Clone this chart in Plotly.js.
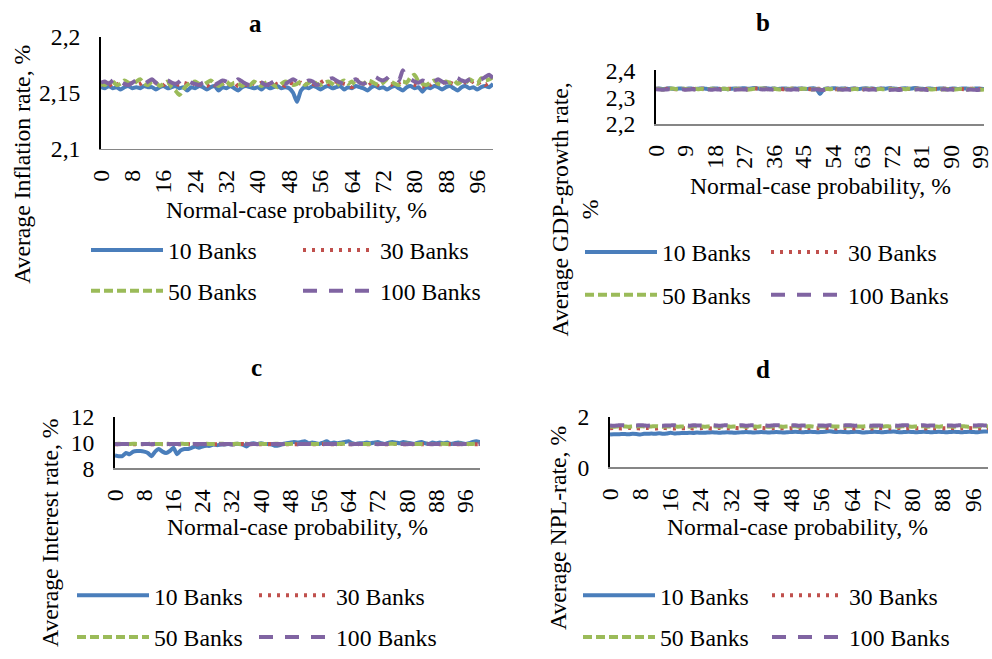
<!DOCTYPE html>
<html><head><meta charset="utf-8">
<script src="https://cdn.plot.ly/plotly-3.0.1.min.js"></script>
<style>html,body{margin:0;padding:0;background:#fff}#chart{width:992px;height:659px}</style>
</head><body><div id="chart"></div>
<script>
// ---------------- DATA ----------------
const X_VALUES = [0,1,2,3,4,5,6,7,8,9,10,11,12,13,14,15,16,17,18,19,20,21,22,23,24,25,26,27,28,29,30,31,32,33,34,35,36,37,38,39,40,41,42,43,44,45,46,47,48,49,50,51,52,53,54,55,56,57,58,59,60,61,62,63,64,65,66,67,68,69,70,71,72,73,74,75,76,77,78,79,80,81,82,83,84,85,86,87,88,89,90,91,92,93,94,95,96,97,98,99,100];
const SERIES_NAMES = ['10 Banks','30 Banks','50 Banks','100 Banks'];

const X_TICKS_8 = [0,8,16,24,32,40,48,56,64,72,80,88,96];
const X_TICKS_9 = [0,9,18,27,36,45,54,63,72,81,90,99];

const Y_TICKS_A = [2.1,2.15,2.2];  const Y_LABELS_A = ['2,1','2,15','2,2'];
const Y_TICKS_B = [2.2,2.3,2.4];   const Y_LABELS_B = ['2,2','2,3','2,4'];
const Y_TICKS_C = [8,10,12];       const Y_LABELS_C = ['8','10','12'];
const Y_TICKS_D = [0,2];           const Y_LABELS_D = ['0','2'];

// a: Average inflation rate
const INF_10 = [2.155,2.154,2.156,2.154,2.155,2.153,2.155,2.156,2.154,2.155,
2.154,2.156,2.155,2.155,2.153,2.155,2.156,2.154,2.155,2.156,
2.154,2.155,2.152,2.155,2.154,2.156,2.155,2.153,2.155,2.156,
2.152,2.155,2.154,2.156,2.154,2.152,2.155,2.156,2.155,2.154,
2.155,2.153,2.156,2.154,2.155,2.156,2.154,2.155,2.154,2.150,
2.142,2.152,2.155,2.154,2.156,2.155,2.153,2.155,2.156,2.154,
2.155,2.156,2.153,2.155,2.154,2.156,2.155,2.154,2.152,2.155,
2.156,2.154,2.155,2.153,2.155,2.156,2.154,2.152,2.155,2.156,
2.154,2.155,2.151,2.155,2.154,2.156,2.155,2.153,2.155,2.156,
2.154,2.152,2.155,2.156,2.154,2.155,2.153,2.155,2.156,2.155,2.158];
const INF_30 = [2.157,2.158,2.156,2.159,2.157,2.160,2.158,2.156,2.159,2.157,
2.158,2.160,2.157,2.156,2.159,2.158,2.157,2.160,2.156,2.158,
2.157,2.159,2.158,2.156,2.160,2.157,2.158,2.156,2.159,2.157,
2.155,2.158,2.160,2.157,2.159,2.156,2.158,2.157,2.159,2.158,
2.157,2.159,2.156,2.158,2.160,2.157,2.158,2.156,2.159,2.158,
2.157,2.159,2.156,2.160,2.158,2.157,2.159,2.161,2.158,2.156,
2.159,2.161,2.158,2.157,2.155,2.160,2.162,2.158,2.161,2.157,
2.155,2.159,2.161,2.158,2.157,2.160,2.158,2.156,2.159,2.158,
2.157,2.156,2.155,2.159,2.157,2.160,2.158,2.161,2.157,2.159,
2.158,2.160,2.156,2.159,2.157,2.161,2.158,2.160,2.157,2.159,2.160];
const INF_50 = [2.158,2.157,2.159,2.160,2.157,2.158,2.161,2.159,2.157,2.160,
2.162,2.158,2.157,2.160,2.159,2.156,2.158,2.160,2.155,2.152,
2.148,2.153,2.157,2.159,2.160,2.158,2.157,2.159,2.161,2.158,
2.156,2.158,2.160,2.157,2.159,2.158,2.156,2.159,2.157,2.160,
2.158,2.156,2.159,2.160,2.157,2.155,2.158,2.160,2.159,2.157,
2.158,2.160,2.157,2.159,2.161,2.158,2.157,2.159,2.160,2.158,
2.156,2.159,2.161,2.158,2.160,2.157,2.159,2.158,2.161,2.160,
2.158,2.157,2.159,2.162,2.160,2.158,2.157,2.160,2.159,2.164,
2.166,2.160,2.158,2.157,2.159,2.161,2.158,2.157,2.160,2.159,
2.161,2.158,2.160,2.159,2.162,2.160,2.158,2.163,2.161,2.162,2.164];
const INF_100 = [2.159,2.160,2.158,2.161,2.163,2.160,2.158,2.157,2.159,2.161,
2.160,2.158,2.160,2.162,2.159,2.157,2.160,2.161,2.159,2.158,
2.160,2.163,2.161,2.159,2.158,2.157,2.159,2.160,2.158,2.157,
2.159,2.161,2.160,2.158,2.159,2.162,2.160,2.158,2.157,2.159,
2.160,2.159,2.157,2.158,2.160,2.161,2.159,2.158,2.160,2.162,
2.160,2.158,2.159,2.161,2.160,2.157,2.158,2.160,2.162,2.163,
2.161,2.159,2.158,2.160,2.161,2.162,2.159,2.158,2.160,2.163,
2.164,2.162,2.161,2.163,2.166,2.164,2.161,2.170,2.163,2.162,
2.160,2.159,2.161,2.160,2.158,2.160,2.162,2.160,2.159,2.161,
2.164,2.163,2.161,2.160,2.162,2.163,2.161,2.162,2.164,2.166,2.163];

// b: Average GDP-growth rate
const GDP_10 = [2.332,2.333,2.331,2.332,2.334,2.332,2.331,2.333,2.332,2.331,
2.333,2.332,2.331,2.332,2.333,2.332,2.331,2.332,2.333,2.332,
2.331,2.332,2.330,2.332,2.333,2.332,2.333,2.334,2.332,2.333,
2.335,2.333,2.332,2.334,2.333,2.332,2.333,2.331,2.332,2.333,
2.332,2.331,2.333,2.332,2.333,2.332,2.331,2.333,2.334,2.330,
2.312,2.328,2.333,2.332,2.334,2.333,2.332,2.333,2.332,2.331,
2.333,2.332,2.331,2.333,2.334,2.332,2.333,2.331,2.332,2.333,
2.332,2.334,2.333,2.332,2.331,2.333,2.334,2.332,2.333,2.335,
2.333,2.332,2.331,2.333,2.332,2.331,2.332,2.333,2.332,2.331,
2.332,2.333,2.331,2.332,2.333,2.332,2.331,2.332,2.333,2.332,2.331];
const GDP_30 = [2.331,2.332,2.330,2.331,2.332,2.331,2.330,2.332,2.331,2.330,
2.332,2.331,2.330,2.331,2.332,2.331,2.330,2.331,2.332,2.331,
2.330,2.331,2.332,2.331,2.330,2.331,2.332,2.331,2.330,2.332,
2.333,2.332,2.331,2.332,2.331,2.330,2.331,2.332,2.331,2.330,
2.331,2.332,2.331,2.330,2.331,2.332,2.331,2.330,2.331,2.332,
2.331,2.330,2.331,2.332,2.331,2.330,2.331,2.332,2.331,2.330,
2.331,2.332,2.331,2.330,2.331,2.332,2.331,2.330,2.332,2.331,
2.330,2.331,2.332,2.331,2.330,2.331,2.332,2.331,2.330,2.331,
2.332,2.331,2.330,2.331,2.332,2.331,2.330,2.331,2.332,2.331,
2.330,2.331,2.332,2.331,2.330,2.331,2.332,2.331,2.330,2.331,2.330];
const GDP_50 = [2.332,2.331,2.329,2.330,2.332,2.333,2.331,2.330,2.332,2.331,
2.330,2.331,2.332,2.330,2.331,2.329,2.330,2.332,2.331,2.330,
2.331,2.332,2.330,2.329,2.331,2.332,2.330,2.331,2.329,2.330,
2.332,2.331,2.333,2.332,2.330,2.331,2.332,2.330,2.329,2.331,
2.330,2.332,2.331,2.330,2.331,2.332,2.331,2.330,2.329,2.331,
2.330,2.329,2.331,2.330,2.332,2.331,2.329,2.330,2.331,2.329,
2.330,2.331,2.329,2.330,2.332,2.331,2.330,2.329,2.331,2.330,
2.329,2.330,2.331,2.330,2.329,2.331,2.330,2.332,2.331,2.330,
2.331,2.329,2.330,2.331,2.329,2.330,2.331,2.330,2.329,2.331,
2.330,2.329,2.330,2.331,2.330,2.329,2.330,2.331,2.329,2.328,2.329];
const GDP_100 = [2.330,2.329,2.328,2.329,2.330,2.328,2.327,2.329,2.330,2.328,
2.329,2.330,2.329,2.328,2.329,2.330,2.329,2.328,2.330,2.329,
2.328,2.329,2.330,2.329,2.328,2.329,2.330,2.329,2.328,2.329,
2.331,2.332,2.330,2.329,2.330,2.329,2.328,2.330,2.329,2.328,
2.329,2.328,2.330,2.329,2.328,2.330,2.329,2.328,2.329,2.330,
2.328,2.327,2.329,2.328,2.327,2.329,2.330,2.328,2.329,2.328,
2.329,2.328,2.327,2.329,2.330,2.328,2.329,2.328,2.329,2.330,
2.328,2.327,2.328,2.329,2.327,2.328,2.329,2.330,2.328,2.329,
2.330,2.329,2.328,2.327,2.329,2.328,2.327,2.329,2.330,2.328,
2.329,2.328,2.327,2.329,2.330,2.328,2.329,2.328,2.327,2.329,2.328];

// c: Average interest rate
const INT_10 = [9.0,8.95,8.95,9.2,9.1,9.3,9.35,9.35,9.3,9.2,
8.95,9.3,9.5,9.3,9.2,9.35,9.6,9.1,9.4,9.5,
9.5,9.6,9.7,9.6,9.7,9.75,9.75,9.85,9.8,9.85,
9.85,9.9,9.85,9.9,9.9,9.85,9.7,9.9,9.95,9.9,
9.95,9.9,9.9,9.85,9.75,9.8,9.9,9.95,10.0,10.05,
10.0,10.05,10.1,9.95,10.0,9.95,9.9,10.0,10.1,9.95,
10.0,9.95,10.0,10.05,10.1,9.95,9.9,9.95,9.95,10.0,
9.95,10.0,10.05,9.95,9.9,10.0,10.05,10.0,9.95,10.05,
10.0,9.95,9.9,10.0,10.05,9.95,9.9,10.0,9.95,10.0,
9.95,10.0,9.9,9.95,10.0,9.95,9.9,9.95,10.05,10.1,10.05];
const INT_30 = [9.88,9.87,9.88,9.89,9.87,9.88,9.88,9.87,9.89,9.88,
9.87,9.88,9.89,9.88,9.87,9.88,9.89,9.87,9.88,9.88,
9.89,9.87,9.88,9.88,9.87,9.89,9.88,9.88,9.87,9.88,
9.88,9.89,9.87,9.88,9.88,9.89,9.87,9.88,9.89,9.88,
9.87,9.88,9.88,9.89,9.87,9.88,9.88,9.87,9.89,9.88,
9.88,9.87,9.89,9.88,9.88,9.87,9.88,9.89,9.88,9.87,
9.88,9.88,9.89,9.87,9.88,9.88,9.87,9.89,9.88,9.88,
9.87,9.88,9.89,9.88,9.87,9.88,9.88,9.89,9.87,9.88,
9.88,9.87,9.89,9.88,9.88,9.87,9.88,9.89,9.88,9.87,
9.88,9.89,9.87,9.88,9.88,9.87,9.89,9.88,9.88,9.87,9.88];
const INT_50 = [9.90,9.91,9.90,9.89,9.90,9.91,9.90,9.90,9.89,9.90,
9.91,9.90,9.89,9.90,9.91,9.90,9.90,9.89,9.91,9.90,
9.90,9.91,9.89,9.90,9.90,9.91,9.90,9.89,9.90,9.91,
9.90,9.90,9.89,9.91,9.90,9.90,9.91,9.89,9.90,9.90,
9.91,9.90,9.89,9.90,9.91,9.90,9.90,9.89,9.90,9.91,
9.90,9.89,9.90,9.91,9.90,9.90,9.89,9.91,9.90,9.90,
9.89,9.90,9.91,9.90,9.90,9.89,9.90,9.91,9.90,9.89,
9.90,9.91,9.90,9.89,9.90,9.90,9.91,9.90,9.89,9.90,
9.91,9.90,9.90,9.89,9.90,9.91,9.90,9.89,9.90,9.90,
9.91,9.90,9.89,9.90,9.90,9.91,9.90,9.89,9.90,9.91,9.90];
const INT_100 = [9.89,9.88,9.89,9.90,9.88,9.89,9.89,9.88,9.90,9.89,
9.88,9.89,9.90,9.89,9.88,9.89,9.89,9.90,9.88,9.89,
9.89,9.88,9.90,9.89,9.89,9.88,9.89,9.90,9.89,9.88,
9.89,9.90,9.88,9.89,9.89,9.90,9.88,9.89,9.89,9.88,
9.90,9.89,9.88,9.89,9.90,9.89,9.88,9.89,9.89,9.90,
9.88,9.89,9.89,9.90,9.88,9.89,9.89,9.88,9.90,9.89,
9.89,9.88,9.89,9.90,9.89,9.88,9.89,9.89,9.90,9.88,
9.89,9.89,9.88,9.90,9.89,9.89,9.88,9.89,9.90,9.89,
9.88,9.89,9.89,9.90,9.88,9.89,9.89,9.88,9.90,9.89,
9.89,9.88,9.89,9.90,9.89,9.88,9.89,9.89,9.90,9.89,9.90];

// d: Average NPL-rate
const NPL_10 = [1.30,1.31,1.31,1.32,1.32,1.31,1.33,1.32,1.30,1.33,
1.33,1.34,1.33,1.35,1.33,1.34,1.37,1.34,1.35,1.36,
1.36,1.37,1.36,1.38,1.37,1.37,1.38,1.39,1.38,1.37,
1.38,1.39,1.38,1.37,1.38,1.39,1.40,1.39,1.38,1.39,
1.40,1.39,1.38,1.39,1.40,1.39,1.38,1.39,1.40,1.41,
1.40,1.39,1.40,1.41,1.40,1.39,1.40,1.41,1.43,1.41,
1.40,1.41,1.40,1.39,1.40,1.41,1.40,1.38,1.39,1.40,
1.41,1.40,1.39,1.40,1.41,1.42,1.40,1.39,1.40,1.41,
1.40,1.39,1.40,1.41,1.40,1.39,1.40,1.41,1.40,1.39,
1.40,1.41,1.40,1.39,1.40,1.41,1.40,1.39,1.41,1.42,1.42];
const NPL_30 = [1.55,1.56,1.55,1.54,1.55,1.56,1.55,1.55,1.54,1.55,
1.56,1.55,1.54,1.55,1.56,1.55,1.55,1.54,1.56,1.55,
1.55,1.56,1.54,1.55,1.55,1.56,1.55,1.54,1.55,1.56,
1.55,1.55,1.54,1.56,1.55,1.55,1.56,1.54,1.55,1.55,
1.56,1.55,1.54,1.55,1.56,1.55,1.55,1.54,1.55,1.56,
1.55,1.54,1.55,1.56,1.55,1.55,1.54,1.56,1.55,1.55,
1.54,1.55,1.56,1.55,1.55,1.54,1.55,1.56,1.55,1.54,
1.55,1.56,1.55,1.54,1.55,1.55,1.56,1.55,1.54,1.55,
1.56,1.55,1.55,1.54,1.55,1.56,1.55,1.54,1.55,1.55,
1.56,1.55,1.54,1.55,1.55,1.56,1.55,1.54,1.55,1.56,1.55];
const NPL_50 = [1.62,1.61,1.62,1.63,1.62,1.61,1.62,1.62,1.63,1.62,
1.61,1.62,1.63,1.62,1.61,1.62,1.62,1.63,1.61,1.62,
1.62,1.61,1.63,1.62,1.62,1.61,1.62,1.63,1.62,1.61,
1.62,1.63,1.61,1.62,1.62,1.63,1.61,1.62,1.62,1.61,
1.63,1.62,1.61,1.62,1.63,1.62,1.61,1.62,1.62,1.63,
1.61,1.62,1.62,1.63,1.61,1.62,1.62,1.61,1.63,1.62,
1.62,1.61,1.62,1.63,1.62,1.61,1.62,1.62,1.63,1.61,
1.62,1.62,1.61,1.63,1.62,1.62,1.61,1.62,1.63,1.62,
1.61,1.62,1.62,1.63,1.61,1.62,1.62,1.61,1.63,1.62,
1.62,1.61,1.62,1.63,1.62,1.61,1.62,1.62,1.63,1.62,1.63];
const NPL_100 = [1.66,1.65,1.66,1.67,1.66,1.65,1.66,1.66,1.67,1.66,
1.65,1.66,1.67,1.66,1.65,1.66,1.66,1.67,1.65,1.66,
1.66,1.65,1.67,1.66,1.66,1.65,1.66,1.67,1.66,1.65,
1.66,1.67,1.65,1.66,1.66,1.67,1.65,1.66,1.67,1.66,
1.67,1.66,1.65,1.66,1.67,1.66,1.65,1.66,1.66,1.67,
1.65,1.66,1.66,1.67,1.65,1.66,1.66,1.65,1.67,1.66,
1.66,1.65,1.66,1.67,1.66,1.65,1.66,1.66,1.67,1.65,
1.66,1.66,1.65,1.67,1.66,1.66,1.65,1.66,1.67,1.66,
1.65,1.66,1.66,1.67,1.65,1.66,1.66,1.65,1.67,1.66,
1.66,1.65,1.66,1.67,1.66,1.65,1.66,1.66,1.67,1.66,1.66];

// ---------------- STYLE / LAYOUT ----------------
const W = 992, H = 659;
const px = v => v / W;
const py = v => 1 - v / H;
const FONT = 'Liberation Serif';
const FS = 23.7;
const COLORS = ['#4a7ebb', '#c0504d', '#9bbb59', '#8064a2'];
const DASHES = ['solid', '3px,6px', '9px,4px', '14px,12px'];
const ITEMW = 72;

const panels = [
  {n:'', data:[INF_10,INF_30,INF_50,INF_100], xd:[101,493], yd:[37,150], range:[2.1,2.2],
   yt:Y_TICKS_A, yl:Y_LABELS_A, xt:X_TICKS_8, legX:93, legRows:[252,293], step:212},
  {n:'2', data:[GDP_10,GDP_30,GDP_50,GDP_100], xd:[656,984], yd:[71,125], range:[2.2,2.4],
   yt:Y_TICKS_B, yl:Y_LABELS_B, xt:X_TICKS_9, legX:587, legRows:[254,297], step:186},
  {n:'3', data:[INT_10,INT_30,INT_50,INT_100], xd:[115,480], yd:[420,472], range:[8,12],
   yt:Y_TICKS_C, yl:Y_LABELS_C, xt:X_TICKS_8, legX:79, legRows:[600,642], step:182},
  {n:'4', data:[NPL_10,NPL_30,NPL_50,NPL_100], xd:[610,988], yd:[420,471], range:[0,2],
   yt:Y_TICKS_D, yl:Y_LABELS_D, xt:X_TICKS_8, legX:585, legRows:[600,642], step:189}
];

const traces = [];
const layout = {
  width: W, height: H,
  margin: {l:0, r:0, t:0, b:0, pad:0},
  paper_bgcolor: '#ffffff', plot_bgcolor: '#ffffff',
  font: {family: FONT, size: FS, color: '#000000'},
  separators: ', ',
  showlegend: true,
  annotations: []
};

const tickFont = {family: FONT, size: FS, color: '#000000'};
let legendCount = 0;

panels.forEach(p => {
  p.data.forEach((ys, i) => {
    legendCount += 1;
    const lg = legendCount === 1 ? 'legend' : 'legend' + legendCount;
    const col = i % 2, row = Math.floor(i / 2);
    traces.push({
      type: 'scatter', mode: 'lines',
      x: X_VALUES, y: ys,
      xaxis: 'x' + p.n, yaxis: 'y' + p.n,
      name: SERIES_NAMES[i],
      legend: lg,
      line: {color: COLORS[i], width: 4, dash: DASHES[i], shape: 'spline', smoothing: 0.6},
      hoverinfo: 'skip'
    });
    layout[lg] = {
      orientation: 'h',
      x: px(p.legX + col * p.step - 7), xanchor: 'left',
      y: py(p.legRows[row]), yanchor: 'middle',
      xref: 'paper', yref: 'paper',
      font: {family: FONT, size: FS, color: '#000000'},
      itemwidth: ITEMW,
      bgcolor: 'rgba(0,0,0,0)', borderwidth: 0,
      itemclick: false, itemdoubleclick: false
    };
  });
  layout['xaxis' + p.n] = {
    anchor: 'y' + p.n,
    domain: [px(p.xd[0]), px(p.xd[1])],
    range: [0, 100],
    tickmode: 'array', tickvals: p.xt, ticktext: p.xt.map(String),
    tickangle: -90, tickfont: tickFont, ticks: '', ticklabelstandoff: 10,
    ticklabeloverflow: 'allow',
    showline: true, linecolor: '#868686', linewidth: 1.5,
    showgrid: false, zeroline: false, fixedrange: true
  };
  layout['yaxis' + p.n] = {
    anchor: 'x' + p.n,
    domain: [py(p.yd[1]), py(p.yd[0])],
    range: p.range,
    tickmode: 'array', tickvals: p.yt, ticktext: p.yl,
    tickfont: tickFont, ticks: '', ticklabelstandoff: 14,
    ticklabeloverflow: 'allow',
    showline: true, linecolor: '#000000', linewidth: 1.8,
    showgrid: false, zeroline: false, fixedrange: true
  };
});

function ann(text, x, y, opts) {
  layout.annotations.push(Object.assign({
    text: text, xref: 'paper', yref: 'paper', x: px(x), y: py(y),
    xanchor: 'center', yanchor: 'middle', showarrow: false,
    font: {family: FONT, size: FS, color: '#000000'}
  }, opts || {}));
}

// panel titles
const boldFont = {family: FONT, size: 25, color: '#000000', weight: 'bold'};
ann('<b>a</b>', 255, 24, {font: boldFont});
ann('<b>b</b>', 763, 23, {font: boldFont});
ann('<b>c</b>', 256, 370, {font: boldFont});
ann('<b>d</b>', 763, 372, {font: boldFont});

// x-axis titles
ann('Normal-case probability, %', 296, 212);
ann('Normal-case probability, %', 820, 187);
ann('Normal-case probability, %', 297, 531);
ann('Normal-case probability, %', 797, 531);

// y-axis titles
ann('Average Inflation rate, %', 22, 166, {textangle: -90});
ann('Average GDP-growth rate,<br>%', 575, 211, {textangle: -90});
ann('Average Interest rate, %', 50, 537, {textangle: -90});
ann('Average NPL-rate, %', 558, 532, {textangle: -90});

Plotly.newPlot('chart', traces, layout, {displayModeBar: false, staticPlot: true});
</script>
</body></html>
